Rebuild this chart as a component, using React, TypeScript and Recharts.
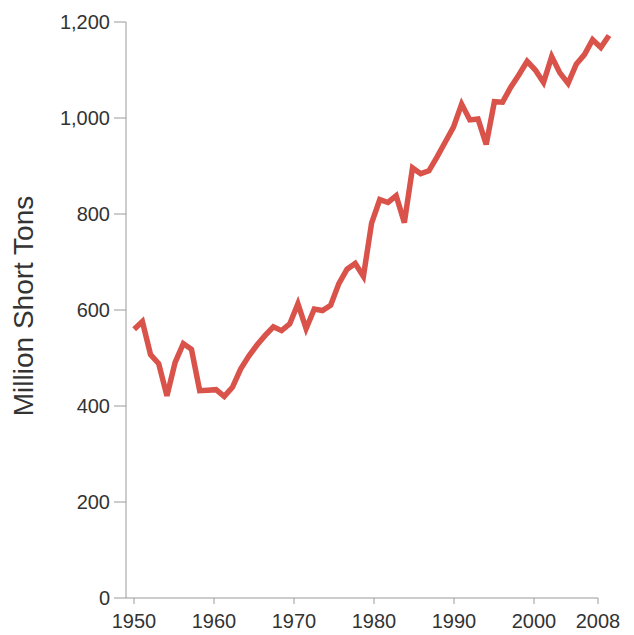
import { LineChart, Line, XAxis, YAxis, ReferenceLine } from "recharts";

// US coal production, million short tons
const years = [
  1950, 1951, 1952, 1953, 1954, 1955, 1956, 1957, 1958, 1959,
  1960, 1961, 1962, 1963, 1964, 1965, 1966, 1967, 1968, 1969,
  1970, 1971, 1972, 1973, 1974, 1975, 1976, 1977, 1978, 1979,
  1980, 1981, 1982, 1983, 1984, 1985, 1986, 1987, 1988, 1989,
  1990, 1991, 1992, 1993, 1994, 1995, 1996, 1997, 1998, 1999,
  2000, 2001, 2002, 2003, 2004, 2005, 2006, 2007, 2008,
];

const production = [
  560, 576, 507, 488, 421, 491, 530, 518, 432, 433,
  434, 420, 439, 477, 504, 527, 547, 565, 557, 571,
  613, 561, 602, 599, 610, 655, 685, 697, 670, 781,
  830, 824, 838, 782, 896, 884, 890, 919, 950, 981,
  1029, 996, 998, 945, 1034, 1033, 1064, 1090, 1118, 1100,
  1074, 1128, 1094, 1072, 1112, 1132, 1163, 1147, 1172,
];

const xTicks = [1950, 1960, 1970, 1980, 1990, 2000, 2008];
const yTicks = [0, 200, 400, 600, 800, 1000, 1200];

const data = years.map((year, i) => ({ year, value: production[i] }));

const AXIS = "#9a9a9a";
const TEXT = "#333333";
const FONT = "'Liberation Sans', Arial, sans-serif";

const YLabel = ({ viewBox }: any) => {
  const cy = viewBox.y + viewBox.height / 2 - 4;
  return (
    <text
      x={23}
      y={cy}
      transform={`rotate(-90, 23, ${cy})`}
      textAnchor="middle"
      dominantBaseline="central"
      fontSize={28}
      fill={TEXT}
      fontFamily={FONT}
    >
      Million Short Tons
    </text>
  );
};

export default function App() {
  return (
    <div style={{ position: "absolute", left: 0, top: 0, background: "#fff" }}>
      <LineChart
        width={634}
        height={635}
        data={data}
        margin={{ top: 22, right: 25, bottom: 0, left: 0 }}
        style={{ fontFamily: FONT }}
      >
        <XAxis
          xAxisId="line"
          dataKey="year"
          type="number"
          domain={[1949, 2008]}
          orientation="top"
          height={0}
          hide
        />
        <XAxis
          xAxisId="ticks"
          dataKey="year"
          type="number"
          domain={[1949, 2009.375]}
          allowDataOverflow
          ticks={xTicks}
          interval={0}
          height={37}
          axisLine={false}
          tickLine={{ stroke: AXIS }}
          tickSize={6}
          tickMargin={10}
          tick={{ fill: TEXT, fontSize: 20 }}
        />
        <YAxis
          width={126}
          domain={[0, 1200]}
          ticks={yTicks}
          interval={0}
          axisLine={{ stroke: AXIS }}
          tickLine={{ stroke: AXIS }}
          tickSize={12}
          tickMargin={4}
          tick={{ fill: TEXT, fontSize: 20 }}
          tickFormatter={(v: number) => v.toLocaleString("en-US")}
          label={<YLabel />}
        />
        <ReferenceLine
          xAxisId="ticks"
          segment={[
            { x: 1949, y: 0 },
            { x: 2008, y: 0 },
          ]}
          stroke={AXIS}
        />
        <Line
          xAxisId="line"
          type="linear"
          dataKey="value"
          stroke="#d9534b"
          strokeWidth={5.5}
          dot={false}
          isAnimationActive={false}
        />
      </LineChart>
    </div>
  );
}
